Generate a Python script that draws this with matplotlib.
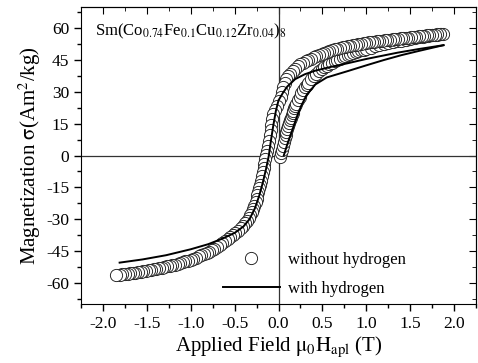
import matplotlib
matplotlib.use('Agg')
import matplotlib.pyplot as plt
import numpy as np

plt.rcParams['font.family'] = 'Liberation Serif'
plt.rcParams['mathtext.fontset'] = 'stix'
plt.rcParams['axes.unicode_minus'] = False

# without hydrogen: virgin curve (from origin up to +1.85 T)
virgin_x = [0.02, 0.03, 0.04, 0.05, 0.06, 0.07, 0.08, 0.09, 0.10, 0.11, 0.12, 0.13, 0.14,
            0.15, 0.16, 0.17, 0.18, 0.19, 0.20, 0.22, 0.24, 0.26, 0.28, 0.30, 0.32, 0.34,
            0.37, 0.40, 0.43, 0.46, 0.49, 0.52, 0.55, 0.58, 0.61, 0.64, 0.67, 0.70, 0.73,
            0.76, 0.79, 0.82, 0.85, 0.88, 0.91, 0.94, 0.97, 1.00, 1.05, 1.10, 1.15, 1.20,
            1.25, 1.30, 1.35, 1.40, 1.45, 1.50, 1.55, 1.60, 1.65, 1.70, 1.75, 1.80, 1.85]
virgin_y = [-0.5, 1.0, 2.7, 4.5, 6.3, 8.1, 9.8, 11.3, 12.7, 14.0, 15.3, 16.6, 17.8,
            19.0, 20.1, 21.2, 22.3, 23.3, 24.3, 26.1, 27.8, 29.4, 30.8, 32.1, 33.3, 34.4,
            35.9, 37.3, 38.5, 39.6, 40.6, 41.5, 42.3, 43.1, 43.8, 44.5, 45.1, 45.7, 46.3,
            46.8, 47.3, 47.8, 48.3, 48.7, 49.1, 49.5, 49.9, 50.3, 50.9, 51.5, 52.0, 52.5,
            53.0, 53.4, 53.8, 54.2, 54.6, 55.0, 55.3, 55.7, 56.0, 56.3, 56.7, 57.0, 57.3]

# without hydrogen: descending branch (+1.87 T down to -1.85 T)
desc_x = [1.87, 1.84, 1.81, 1.78, 1.75, 1.72, 1.69, 1.66, 1.63, 1.60, 1.57, 1.54, 1.51,
          1.48, 1.45, 1.42, 1.39, 1.36, 1.33, 1.30, 1.27, 1.24, 1.21, 1.18, 1.15, 1.12,
          1.09, 1.06, 1.03, 1.00, 0.97, 0.94, 0.91, 0.88, 0.85, 0.82, 0.79, 0.76, 0.73,
          0.70, 0.67, 0.64, 0.61, 0.58, 0.55, 0.52, 0.49, 0.46, 0.43, 0.40, 0.37, 0.34,
          0.31, 0.28, 0.25, 0.22, 0.19, 0.16, 0.13, 0.11, 0.09, 0.07, 0.05, 0.04, 0.03,
          0.01, -0.02, -0.045, -0.06, -0.07, -0.08, -0.09, -0.10, -0.11, -0.12, -0.13,
          -0.14, -0.15, -0.16, -0.17, -0.18, -0.19, -0.20, -0.21, -0.22, -0.23, -0.24,
          -0.25, -0.26, -0.275, -0.29, -0.305, -0.32, -0.34, -0.36, -0.38, -0.40, -0.43,
          -0.46, -0.49, -0.52, -0.55, -0.58, -0.61, -0.64, -0.67, -0.70, -0.73, -0.76,
          -0.79, -0.82, -0.85, -0.88, -0.91, -0.94, -0.97, -1.00, -1.03, -1.06, -1.09,
          -1.12, -1.15, -1.18, -1.21, -1.24, -1.27, -1.30, -1.33, -1.36, -1.39, -1.42,
          -1.45, -1.48, -1.51, -1.54, -1.57, -1.60, -1.63, -1.66, -1.69, -1.72, -1.75,
          -1.78, -1.81, -1.85]
desc_y = [57.4, 57.3, 57.1, 57.0, 56.8, 56.7, 56.6, 56.4, 56.3, 56.2, 56.0, 55.9, 55.7,
          55.6, 55.5, 55.3, 55.2, 55.0, 54.9, 54.7, 54.6, 54.4, 54.3, 54.1, 53.9, 53.8,
          53.6, 53.5, 53.3, 53.1, 52.9, 52.7, 52.5, 52.3, 52.0, 51.8, 51.5, 51.3, 51.0,
          50.7, 50.4, 50.0, 49.6, 49.2, 48.8, 48.4, 47.9, 47.4, 46.9, 46.3, 45.7, 45.1,
          44.4, 43.7, 42.9, 42.0, 41.0, 39.9, 38.6, 37.4, 36.0, 34.3, 32.2, 30.0, 27.5,
          25.5, 23.5, 21.5, 19.5, 17.0, 14.5, 12.0, 9.5, 7.0, 4.5, 2.2,
          0.2, -1.8, -3.8, -5.8, -7.8, -9.8, -11.8, -13.7, -15.5, -17.2, -18.8,
          -20.3, -21.7, -23.6, -25.3, -26.8, -28.1, -29.6, -30.9, -32.0, -33.0, -34.4,
          -35.6, -36.7, -37.7, -38.6, -39.5, -40.5, -41.4, -42.3, -43.1, -43.9, -44.6,
          -45.3, -45.9, -46.5, -47.1, -47.6, -48.1, -48.6, -49.1, -49.5, -49.9, -50.3,
          -50.7, -51.0, -51.4, -51.7, -52.0, -52.3, -52.6, -52.9, -53.2, -53.4, -53.7,
          -53.9, -54.2, -54.4, -54.6, -54.8, -55.0, -55.2, -55.4, -55.6, -55.7, -55.9,
          -56.0, -56.1, -56.3]

# with hydrogen: virgin curve then descending branch
h_virgin_x = [0.06, 0.11, 0.17, 0.22, 0.26, 0.32, 0.42, 0.55, 0.79, 1.00, 1.20, 1.40, 1.60,
              1.88]
h_virgin_y = [0.0, 6.5, 13.5, 19.5, 23.5, 28.5, 33.5, 36.8, 39.8, 42.5, 45.0, 47.3, 49.3,
              52.0]
h_desc_x = [1.88, 1.60, 1.36, 1.00, 0.79, 0.60, 0.42, 0.30, 0.19, 0.10, 0.05, 0.0, -0.03,
            -0.06, -0.09, -0.11, -0.14, -0.18, -0.22, -0.27, -0.33, -0.40, -0.50, -0.64, -0.80,
            -1.00, -1.28, -1.55, -1.81]
h_desc_y = [52.0, 50.2, 48.5, 45.5, 43.5, 41.8, 40.0, 38.3, 36.0, 32.5, 29.5, 26.0, 21.0,
            14.0, 6.0, 0.0, -6.0, -13.0, -19.0, -25.0, -30.0, -33.5, -36.5, -39.2, -41.8,
            -44.2, -47.0, -49.0, -50.5]

fig = plt.figure(figsize=(4.78, 3.63), dpi=100)
ax = fig.add_axes([81/478, 59/363, 395/478, 297/363])

ax.axhline(0, color='#333333', lw=0.9, zorder=1)
ax.axvline(0, color='#333333', lw=0.9, zorder=1)

ax.plot(virgin_x + desc_x, virgin_y + desc_y, 'o', ms=8.8, mfc='white', mec='#1e1e1e',
        mew=0.65, zorder=2, label='without hydrogen')
ax.plot(h_virgin_x, h_virgin_y, '-', color='k', lw=1.4, zorder=3)
ax.plot(h_desc_x, h_desc_y, '-', color='k', lw=1.4, zorder=3, label='with hydrogen')

ax.set_xlim(-2.25, 2.23)
ax.set_ylim(-70, 70)
ax.set_xticks(np.arange(-2.0, 2.01, 0.5))
ax.set_yticks(np.arange(-60, 61, 15))
ax.set_xticks(np.arange(-2.25, 2.3, 0.25), minor=True)
ax.set_yticks(np.arange(-67.5, 70, 7.5), minor=True)
ax.xaxis.set_major_formatter(matplotlib.ticker.FormatStrFormatter('%.1f'))
ax.tick_params(which='major', direction='out', length=5, width=1, labelsize=12.5)
ax.tick_params(which='minor', direction='out', length=3, width=1)

# inward ticks on top and right
top = ax.secondary_xaxis('top')
top.set_xticks(np.arange(-2.0, 2.01, 0.5))
top.set_xticks(np.arange(-2.25, 2.3, 0.25), minor=True)
top.tick_params(which='major', direction='in', length=5, labeltop=False)
top.tick_params(which='minor', direction='in', length=3)
right = ax.secondary_yaxis('right')
right.set_yticks(np.arange(-60, 61, 15))
right.set_yticks(np.arange(-67.5, 70, 7.5), minor=True)
right.tick_params(which='major', direction='in', length=5, labelright=False)
right.tick_params(which='minor', direction='in', length=3)

ax.set_xlabel(r'Applied Field $\mathrm{\mu_0 H_{apl}}$ (T)', fontsize=15, labelpad=2)
ax.set_ylabel(r'Magnetization $\mathrm{\sigma}$(Am$^2$/kg)', fontsize=15, labelpad=2)

ax.text(0.035, 0.906, r'Sm(Co$_{0.74}$Fe$_{0.1}$Cu$_{0.12}$Zr$_{0.04}$)$_8$',
        transform=ax.transAxes, fontsize=12, va='baseline', ha='left')

ax.legend(loc='lower left', bbox_to_anchor=((223-81)/395, 0.025), frameon=False, fontsize=12,
          handlelength=3.4, handletextpad=0.5, labelspacing=0.78, borderpad=0, borderaxespad=0,
          numpoints=1)

fig.savefig('out.png', dpi=100)
